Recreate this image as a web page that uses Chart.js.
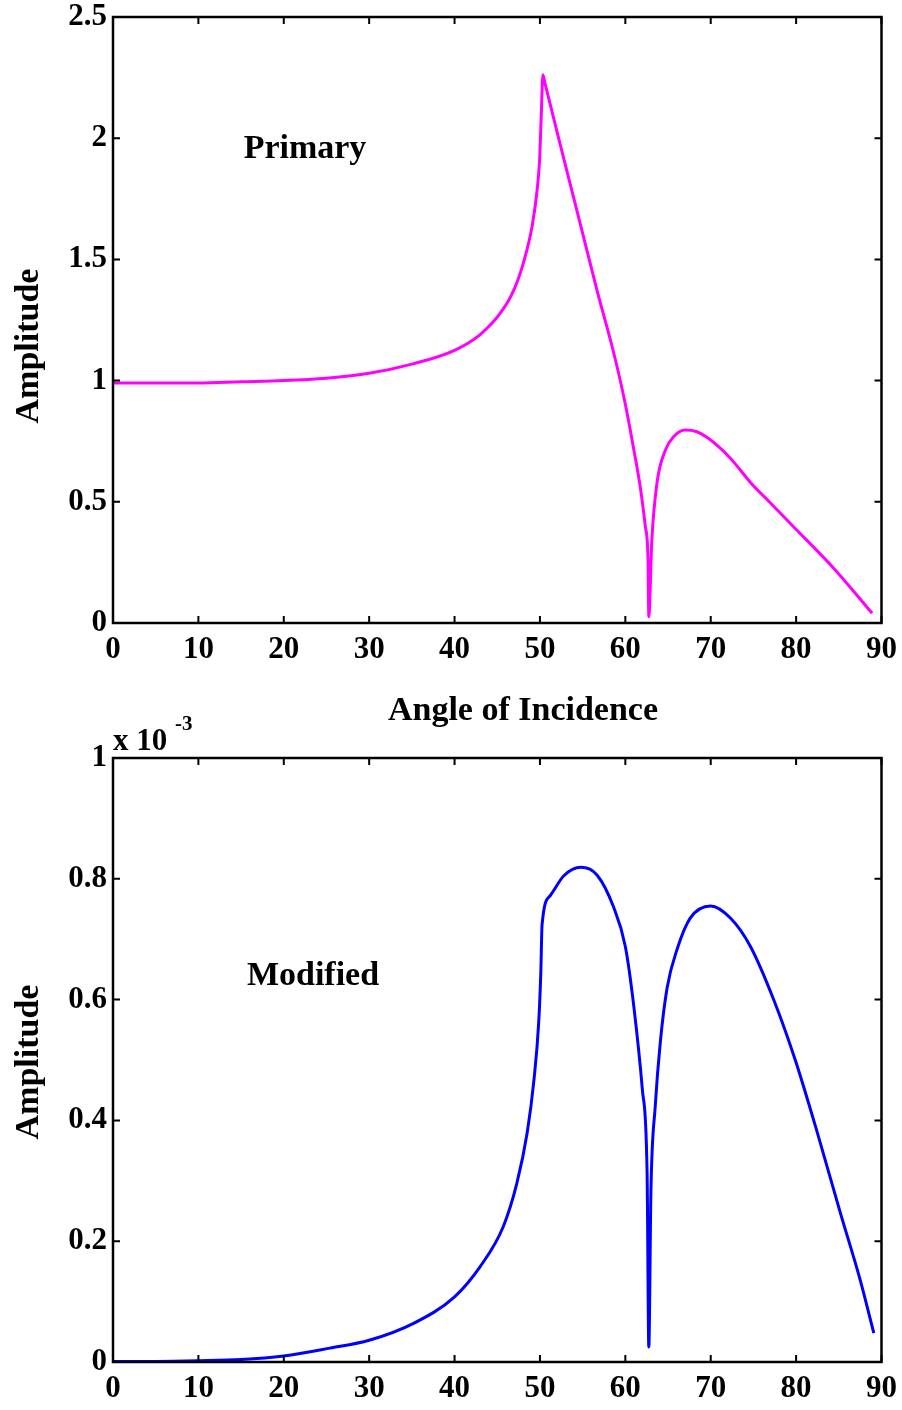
<!DOCTYPE html>
<html>
<head>
<meta charset="utf-8">
<script src="https://cdn.jsdelivr.net/npm/chart.js@4.4.0/dist/chart.umd.min.js"></script>
<style>
  html, body { margin: 0; padding: 0; background: #fff; overflow: hidden; }
  #wrap { position: relative; width: 902px; height: 1410px; overflow: hidden; }
  canvas { position: absolute; left: 0; }
</style>
</head>
<body>
<div id="wrap">
  <canvas id="topChart" width="905" height="740" style="top:0"></canvas>
  <canvas id="bottomChart" width="905" height="710" style="top:700px"></canvas>
</div>
<script>
// angle of incidence (deg) and amplitude
var primaryAngle = [0, 5, 10, 15, 20, 25, 30, 35, 40, 43, 45.4, 46.9, 48.1, 49.1, 49.65, 49.96, 50.16, 50.35,
    50.6, 52.4, 54.7, 56.7, 58.6, 59.9, 61.0, 61.8, 62.35, 62.66, 62.75,
    63.1, 63.7, 64.7, 65.7, 67.0, 68.3, 69.6, 72.3, 74.65, 77, 79.7, 84.4, 88.9];
var primaryAmp = [0.99, 0.99, 0.99, 0.995, 1.0, 1.01, 1.03, 1.068, 1.125, 1.19, 1.28, 1.37, 1.49, 1.64, 1.78, 1.91, 2.10, 2.262,
    2.225, 1.97, 1.65, 1.37, 1.12, 0.92, 0.714, 0.549, 0.397, 0.26, 0.026,
    0.34, 0.576, 0.714, 0.77, 0.796, 0.79, 0.765, 0.68, 0.58, 0.495, 0.397, 0.226, 0.04];

// modified amplitude, in units of 1e-3
var modifiedAngle = [0, 5, 10, 15, 20, 25.4, 30, 35.2, 40, 43, 45.7, 47.3, 48.5, 49.3, 49.85, 50.1, 50.25,
    51.2, 52.8, 54.8, 56.7, 58.6, 60, 61, 62, 62.55, 62.75,
    63.0, 63.5, 64.1, 64.9, 66.1, 67.6, 70, 72.3, 74.65, 77.4, 79.9, 82.5, 85.2, 87.5, 89.1];
var modifiedAmp = [0.001, 0.001, 0.002, 0.004, 0.01, 0.023, 0.036, 0.064, 0.108, 0.158, 0.224, 0.296, 0.379, 0.467, 0.561, 0.644, 0.724,
    0.772, 0.805, 0.819, 0.806, 0.754, 0.688, 0.588, 0.45, 0.312, 0.025,
    0.285, 0.423, 0.53, 0.62, 0.685, 0.735, 0.755, 0.735, 0.688, 0.599, 0.50, 0.379, 0.246, 0.136, 0.048];

var xTicks = [0, 10, 20, 30, 40, 50, 60, 70, 80, 90];
var yTicksTop = [0, 0.5, 1, 1.5, 2, 2.5];
var yTicksBottom = [0, 0.2, 0.4, 0.6, 0.8, 1];

var SERIF = '"Liberation Serif", "Times New Roman", serif';

function pairs(xs, ys){
    var out = [];
    for (var i = 0; i < xs.length; i++) out.push({x: xs[i], y: ys[i]});
    return out;
}

function fixedTicks(list){
    return function(scale){
        scale.ticks = list.map(function(v){ return {value: v}; });
    };
}

// box round the plot, inward ticks on all four sides, and the free texts
var framePlugin = {
    id: 'frame',
    afterDraw: function(chart, args, opts){
        var ctx = chart.ctx, a = chart.chartArea;
        var sx = chart.scales.x, sy = chart.scales.y;
        ctx.save();
        ctx.strokeStyle = '#000';
        ctx.lineWidth = 2;
        ctx.beginPath();
        sx.ticks.forEach(function(t){
            var px = sx.getPixelForValue(t.value);
            ctx.moveTo(px, a.bottom); ctx.lineTo(px, a.bottom - 7);
            ctx.moveTo(px, a.top); ctx.lineTo(px, a.top + 7);
        });
        sy.ticks.forEach(function(t){
            var py = sy.getPixelForValue(t.value);
            ctx.moveTo(a.left, py); ctx.lineTo(a.left + 7, py);
            ctx.moveTo(a.right, py); ctx.lineTo(a.right - 7, py);
        });
        ctx.stroke();
        ctx.lineWidth = 2.5;
        ctx.strokeRect(a.left, a.top, a.right - a.left, a.bottom - a.top);

        ctx.fillStyle = '#000';
        (opts.texts || []).forEach(function(t){
            ctx.save();
            ctx.font = 'bold ' + (t.size || 34) + 'px ' + SERIF;
            ctx.textAlign = t.align || 'center';
            ctx.textBaseline = t.baseline || 'alphabetic';
            ctx.translate(t.x, t.y);
            if (t.rotate) ctx.rotate(t.rotate);
            ctx.fillText(t.text, 0, 0);
            ctx.restore();
        });
        ctx.restore();
    }
};

function makeChart(id, data, color, yMax, yTicks, pad, xHeight, texts){
    return new Chart(document.getElementById(id), {
        type: 'scatter',
        data: {
            datasets: [{
                data: data,
                showLine: true,
                borderColor: color,
                borderWidth: 3,
                pointRadius: 0,
                cubicInterpolationMode: 'monotone'
            }]
        },
        options: {
            responsive: false,
            animation: false,
            layout: { padding: pad },
            plugins: {
                legend: { display: false },
                tooltip: { enabled: false },
                frame: { texts: texts }
            },
            scales: {
                x: {
                    type: 'linear', min: 0, max: 90,
                    afterBuildTicks: fixedTicks(xTicks),
                    afterFit: function(s){ s.height = xHeight; },
                    grid: { display: false, drawTicks: false },
                    border: { display: false },
                    ticks: { color: '#000', padding: 8, maxRotation: 0,
                             font: { family: SERIF, size: 31, weight: 'bold' } }
                },
                y: {
                    type: 'linear', min: 0, max: yMax,
                    afterBuildTicks: fixedTicks(yTicks),
                    afterFit: function(s){ s.width = 113; },
                    grid: { display: false, drawTicks: false },
                    border: { display: false },
                    ticks: { color: '#000', padding: 6,
                             callback: function(v){ return String(v); },
                             font: { family: SERIF, size: 31, weight: 'bold', lineHeight: 0.5 } }
                }
            }
        },
        plugins: [framePlugin]
    });
}

makeChart('topChart', pairs(primaryAngle, primaryAmp), '#ff00ff', 2.5, yTicksTop,
    { top: 17, right: 21, left: 0, bottom: 0 }, 117, [
        { text: 'Primary', x: 305, y: 158 },
        { text: 'Amplitude', x: 29, y: 346, rotate: -Math.PI / 2, baseline: 'middle' },
        { text: 'Angle of Incidence', x: 523, y: 720 }
    ]);

makeChart('bottomChart', pairs(modifiedAngle, modifiedAmp), '#0000ff', 1, yTicksBottom,
    { top: 58, right: 21, left: 0, bottom: 0 }, 48, [
        { text: 'Modified', x: 313, y: 285 },
        { text: 'Amplitude', x: 29, y: 362, rotate: -Math.PI / 2, baseline: 'middle' },
        { text: 'x 10', x: 113, y: 50, align: 'left', size: 31 },
        { text: '-3', x: 175, y: 30, align: 'left', size: 21 }
    ]);
</script>
</body>
</html>
